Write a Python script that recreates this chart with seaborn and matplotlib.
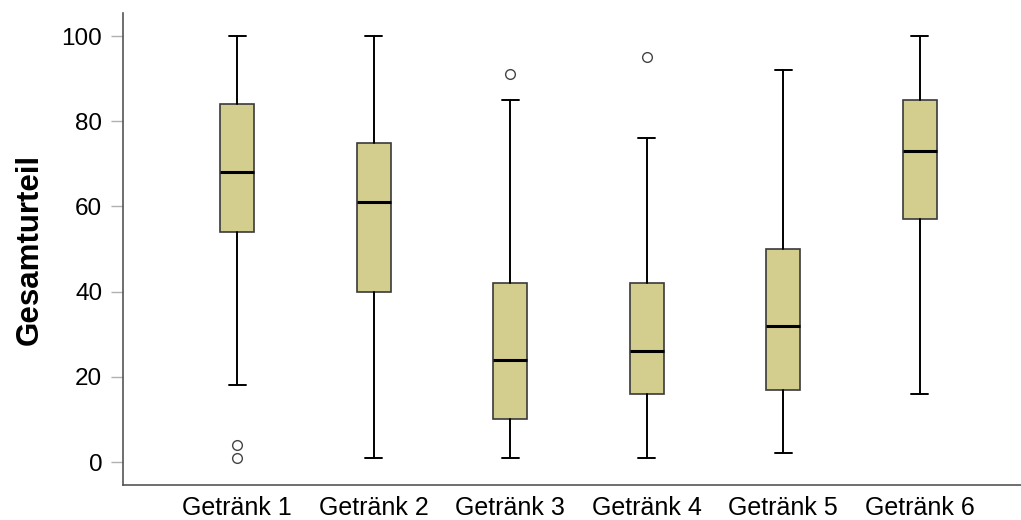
import matplotlib
matplotlib.use("Agg")
import matplotlib.pyplot as plt
import seaborn as sns

categories = ["Getränk 1", "Getränk 2", "Getränk 3", "Getränk 4", "Getränk 5", "Getränk 6"]
whisker_low = [18, 1, 1, 1, 2, 16]
q1 = [54, 40, 10, 16, 17, 57]
median = [68, 61, 24, 26, 32, 73]
q3 = [84, 75, 42, 42, 50, 85]
whisker_high = [100, 100, 85, 76, 92, 100]
outliers = [[1, 4], [], [91], [95], [], []]
y_ticks = [0, 20, 40, 60, 80, 100]

sns.set_style("white")
plt.rcParams['font.family'] = ['Liberation Sans', 'DejaVu Sans']
plt.rcParams['text.color'] = 'black'
plt.rcParams['axes.labelcolor'] = 'black'
plt.rcParams['xtick.color'] = 'black'
plt.rcParams['ytick.color'] = 'black'

stats = []
for i, name in enumerate(categories):
    stats.append(dict(label=name, whislo=whisker_low[i], q1=q1[i], med=median[i],
                      q3=q3[i], whishi=whisker_high[i], fliers=outliers[i]))

fig = plt.figure(figsize=(10.21, 5.2), dpi=100)
ax = fig.add_axes([0.1205, 0.0673, 0.8795, 0.9077])

ax.bxp(stats, positions=range(len(categories)), widths=0.25, patch_artist=True,
       boxprops=dict(facecolor="#D3CE8E", edgecolor="#3a3a3a", linewidth=1.2),
       medianprops=dict(color="black", linewidth=2.2),
       whiskerprops=dict(color="black", linewidth=1.4),
       capprops=dict(color="black", linewidth=1.4),
       capwidths=0.125,
       flierprops=dict(marker="o", markerfacecolor="white", markeredgecolor="#444444",
                       markersize=7, markeredgewidth=1.0))

ax.set_xlim(-0.835, 5.74)
ax.set_ylim(-5.4, 105.4)
ax.set_yticks(y_ticks)
ax.set_xticks(range(len(categories)))
ax.set_xticklabels(categories)
ax.tick_params(axis="y", length=9, width=1, color="#b0b0b0", labelcolor="black",
               labelsize=17.5, pad=6, left=True)
ax.tick_params(axis="x", length=0, labelsize=18, labelcolor="black", pad=8)
ax.set_ylabel("Gesamturteil", fontsize=22.5, fontweight="bold", labelpad=12, color="black")
for s in ["top", "right"]:
    ax.spines[s].set_visible(False)
for s in ["left", "bottom"]:
    ax.spines[s].set_color("#555555")
    ax.spines[s].set_linewidth(1.2)
ax.grid(False)

fig.savefig("out.png", dpi=100)
